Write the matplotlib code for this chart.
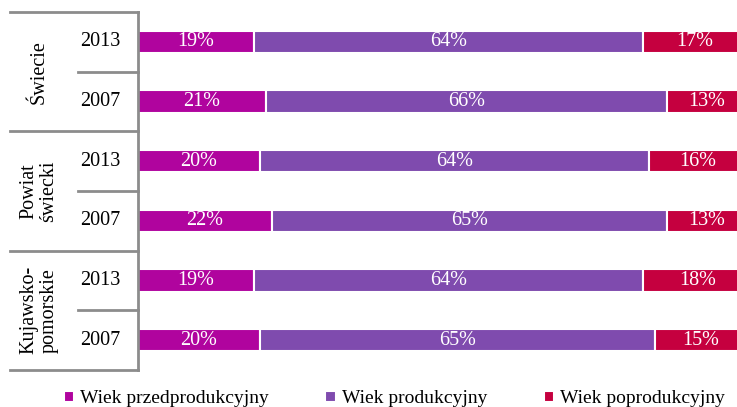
import matplotlib
matplotlib.use('Agg')
import matplotlib.pyplot as plt
from matplotlib.transforms import blended_transform_factory

plt.rcParams['font.family'] = ['Liberation Serif', 'DejaVu Serif']

groups = ['Świecie', 'Powiat\nświecki', 'Kujawsko-\npomorskie']
years = ['2013', '2007', '2013', '2007', '2013', '2007']
series = ['Wiek przedprodukcyjny', 'Wiek produkcyjny', 'Wiek poprodukcyjny']
przed = [19, 21, 20, 22, 19, 20]
prod = [64, 66, 64, 65, 64, 65]
popr = [17, 13, 16, 13, 18, 15]
colors = ['#B0049E', '#7F4BAE', '#C5003F']

fig = plt.figure(figsize=(7.37, 4.07), dpi=100)
ax = fig.add_axes([138/737, 37/407, 1 - 138/737, 358/407])

rows = list(range(len(years)))
left = [0] * len(rows)
for vals, col, name in zip([przed, prod, popr], colors, series):
    ax.barh(rows, vals, left=left, height=0.37, color=col,
            edgecolor='white', linewidth=1.5, label=name)
    for r, v, l in zip(rows, vals, left):
        ax.text(l + v / 2, r, f'{v}%', ha='center', va='center',
                color='white', fontsize=14.5)
    left = [a + b for a, b in zip(left, vals)]

ax.set_xlim(0, 98.5)
ax.set_ylim(5.5, -0.5)
ax.set_xticks([])
ax.set_yticks([])
for s in ['top', 'right', 'bottom']:
    ax.spines[s].set_visible(False)
ax.spines['left'].set_color('#8c8c8c')
ax.spines['left'].set_linewidth(2)

# table on the left
tr = blended_transform_factory(fig.transFigure, ax.transData)
x0, xm, x1 = 10/737, 78/737, 138/737
for k in range(0, 7, 2):
    ax.plot([x0, x1], [k - 0.5, k - 0.5], color='#8c8c8c', lw=2,
            transform=tr, clip_on=False)
for k in range(1, 6, 2):
    ax.plot([xm, x1], [k - 0.5, k - 0.5], color='#8c8c8c', lw=2,
            transform=tr, clip_on=False)
for r, y in zip(rows, years):
    ax.text(100/737, r, y, ha='center', va='center', fontsize=14.5,
            transform=tr)
for i, g in enumerate(groups):
    ax.text(39/737, 2 * i + 0.5, g, ha='center', va='center', fontsize=14.5,
            rotation=90, linespacing=1.05, transform=tr)

fig.legend(loc='center', bbox_to_anchor=(0.535, 0.02), ncol=3, frameon=False,
           fontsize=14, handlelength=0.55, handleheight=0.55, handletextpad=0.3,
           columnspacing=2.9)

fig.savefig('out.png', dpi=100)
